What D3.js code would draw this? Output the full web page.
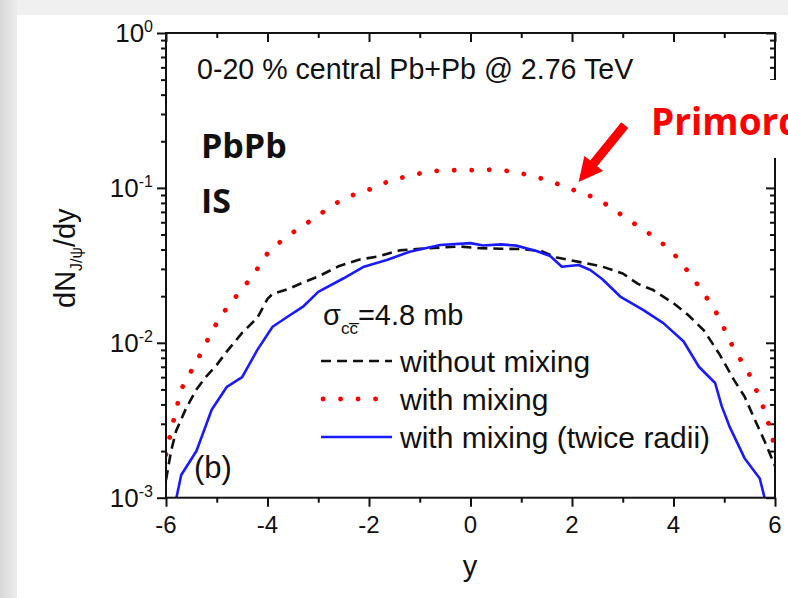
<!DOCTYPE html>
<html>
<head>
<meta charset="utf-8">
<script src="https://cdn.jsdelivr.net/npm/d3@7"></script>
<style>
  html, body { margin: 0; padding: 0; background: #f0f0f0; }
  svg { display: block; }
  text { font-family: "Liberation Sans", Arial, sans-serif; fill: #111; }
  .bold { font-family: "Open Sans", "Lato", sans-serif; font-weight: 700; }
</style>
</head>
<body>
<svg id="rapidityChart" width="788" height="598"></svg>
<script>
// rapidity values and dN/dy
const yRed = [-6, -5.9, -5.8, -5.7, -5.5, -5.3, -5.1, -4.9, -4.6, -4.3, -4.0, -3.7, -3.4, -3.1, -2.8, -2.5,
  -2.2, -1.9, -1.6, -1.2, -0.8, -0.4, 0, 0.4, 0.8, 1.2, 1.6, 1.9, 2.2, 2.5, 2.8, 3.1, 3.4, 3.7, 4.0,
  4.3, 4.6, 4.9, 5.1, 5.3, 5.5, 5.7, 5.8, 5.9, 6.0];
const withMixing = [0.0019, 0.0027, 0.0037, 0.0050, 0.0066, 0.0087, 0.0118, 0.0152, 0.0203, 0.0268,
  0.0378, 0.0463, 0.0543, 0.0630, 0.0738, 0.0855, 0.0928, 0.100, 0.111, 0.120, 0.128, 0.130, 0.130,
  0.131, 0.128, 0.120, 0.110, 0.100, 0.093, 0.085, 0.0735, 0.0625, 0.0540, 0.0463, 0.0378, 0.0285,
  0.0208, 0.0146, 0.0104, 0.0080, 0.0062, 0.0044, 0.0036, 0.0028, 0.0021];

const yBlack = [-6, -5.9, -5.8, -5.6, -5.4, -5.2, -5.0, -4.8, -4.5, -4.2, -4.0, -3.9, -3.6, -3.3, -3.0,
  -2.6, -2.2, -1.8, -1.4, -1.0, -0.6, -0.2, 0.2, 0.6, 1.0, 1.4, 1.7, 2.2, 2.6, 3.0, 3.3, 3.6, 4.0,
  4.3, 4.6, 4.9, 5.2, 5.4, 5.6, 5.8, 6.0];
const withoutMixing = [0.0013, 0.0020, 0.0027, 0.0038, 0.0050, 0.0061, 0.0072, 0.0088, 0.0116, 0.0145,
  0.0192, 0.0207, 0.0222, 0.0245, 0.0268, 0.0312, 0.0344, 0.0362, 0.0395, 0.0405, 0.0412, 0.0418,
  0.0408, 0.0405, 0.0403, 0.0390, 0.0355, 0.0330, 0.0310, 0.0280, 0.0240, 0.0219, 0.0180, 0.0150,
  0.0120, 0.0085, 0.0057, 0.0045, 0.0032, 0.0023, 0.0016];

const yBlue = [-5.8, -5.7, -5.4, -5.1, -4.8, -4.5, -4.2, -3.9, -3.65, -3.3, -3.0, -2.5, -2.1, -1.65,
  -1.2, -0.6, 0.0, 0.25, 0.6, 0.9, 1.3, 1.57, 1.8, 2.13, 2.36, 2.6, 2.95, 3.4, 3.8, 4.2, 4.5, 4.82,
  4.95, 5.1, 5.4, 5.7, 5.8];
const twiceRadii = [0.00098, 0.0014, 0.0020, 0.0037, 0.0052, 0.0060, 0.0090, 0.0127, 0.0144, 0.0171,
  0.0213, 0.0261, 0.0310, 0.0342, 0.0387, 0.0428, 0.0440, 0.0425, 0.0432, 0.0424, 0.0391, 0.0363,
  0.0310, 0.0318, 0.0295, 0.0257, 0.0199, 0.0163, 0.0134, 0.0102, 0.0070, 0.0055, 0.0039, 0.0029,
  0.0018, 0.00133, 0.00098];

const xMajor = [-6, -4, -2, 0, 2, 4, 6];
const xMinor = [-5, -3, -1, 1, 3, 5];
const yDecades = [-3, -2, -1, 0];

const series = [
  { name: "without mixing", xs: yBlack, vals: withoutMixing, color: "#111", width: 2.6, dash: "10 6", cap: "butt" },
  { name: "with mixing", xs: yRed, vals: withMixing, color: "#ff0000", width: 4.8, dash: "0.1 17.4", cap: "round" },
  { name: "with mixing (twice radii)", xs: yBlue, vals: twiceRadii, color: "#1a1aff", width: 2.6, dash: null, cap: "butt" }
];

const svg = d3.select("#rapidityChart");
const W = 788, H = 598;
const plot = { left: 166, right: 775, top: 33, bottom: 497.7 };

// slide background
const defs = svg.append("defs");
const grad = defs.append("linearGradient").attr("id", "edgeGrad");
grad.append("stop").attr("offset", "0%").attr("stop-color", "#d8d8d8");
grad.append("stop").attr("offset", "100%").attr("stop-color", "#ececec");
svg.append("rect").attr("width", W).attr("height", H).attr("fill", "#f0f0f0");
svg.append("rect").attr("x", 0).attr("y", 0).attr("width", 17).attr("height", H).attr("fill", "url(#edgeGrad)");
svg.append("rect").attr("x", 17).attr("y", 15).attr("width", W - 17).attr("height", H - 15).attr("fill", "#fff");

defs.append("clipPath").attr("id", "plotClip")
  .append("rect")
  .attr("x", plot.left).attr("y", plot.top)
  .attr("width", plot.right - plot.left).attr("height", plot.bottom - plot.top);

const x = d3.scaleLinear().domain([-6, 6]).range([plot.left, plot.right]);
const y = d3.scaleLog().domain([1e-3, 1]).range([plot.bottom, plot.top]);

const yMinor = [];
yDecades.slice(0, 3).forEach(e => {
  for (let k = 2; k <= 9; k++) yMinor.push(k * Math.pow(10, e));
});
const yMajor = yDecades.map(e => Math.pow(10, e));

function drawAxis(axis, transform) {
  const g = svg.append("g").attr("transform", transform).call(axis);
  g.select(".domain").remove();
  g.selectAll(".tick line").attr("stroke", "#111").attr("stroke-width", 2);
  g.selectAll(".tick text").remove();
  return g;
}

// bottom + top (ticks point down), left + right (ticks point left)
drawAxis(d3.axisBottom(x).tickValues(xMajor).tickSize(9).tickFormat(""), `translate(0,${plot.bottom})`);
drawAxis(d3.axisBottom(x).tickValues(xMinor).tickSize(5).tickFormat(""), `translate(0,${plot.bottom})`);
drawAxis(d3.axisBottom(x).tickValues(xMajor).tickSize(9).tickFormat(""), `translate(0,${plot.top})`);
drawAxis(d3.axisBottom(x).tickValues(xMinor).tickSize(5).tickFormat(""), `translate(0,${plot.top})`);
drawAxis(d3.axisLeft(y).tickValues(yMajor).tickSize(9).tickFormat(""), `translate(${plot.left},0)`);
drawAxis(d3.axisLeft(y).tickValues(yMinor).tickSize(5).tickFormat(""), `translate(${plot.left},0)`);
drawAxis(d3.axisLeft(y).tickValues(yMajor).tickSize(9).tickFormat(""), `translate(${plot.right},0)`);
drawAxis(d3.axisLeft(y).tickValues(yMinor).tickSize(5).tickFormat(""), `translate(${plot.right},0)`);

// curves
const line = d3.line().x(d => x(d[0])).y(d => y(d[1]));
const curves = svg.append("g").attr("clip-path", "url(#plotClip)");
series.forEach(s => {
  curves.append("path")
    .datum(s.xs.map((v, i) => [v, s.vals[i]]))
    .attr("d", line)
    .attr("fill", "none")
    .attr("stroke", s.color)
    .attr("stroke-width", s.width)
    .attr("stroke-linecap", s.cap)
    .attr("stroke-linejoin", "round")
    .attr("stroke-dasharray", s.dash);
});

// frame
svg.append("rect")
  .attr("x", plot.left).attr("y", plot.top)
  .attr("width", plot.right - plot.left).attr("height", plot.bottom - plot.top)
  .attr("fill", "none").attr("stroke", "#111").attr("stroke-width", 2);

// tick labels
svg.append("g").selectAll("text")
  .data(xMajor)
  .enter()
  .append("text")
  .attr("x", d => x(d))
  .attr("y", 533)
  .attr("text-anchor", "middle")
  .style("font-size", "24px")
  .text(d => d);

const yLab = svg.append("g").selectAll("text")
  .data(yDecades)
  .enter()
  .append("text")
  .attr("x", 153)
  .attr("y", d => y(Math.pow(10, d)) + 9)
  .attr("text-anchor", "end")
  .style("font-size", "26px");
yLab.append("tspan").text("10");
yLab.append("tspan").attr("dy", -10).style("font-size", "16px").text(d => d);

// axis titles
svg.append("text")
  .attr("x", 470).attr("y", 576)
  .attr("text-anchor", "middle")
  .style("font-size", "29px")
  .text("y");

const yTitle = svg.append("text")
  .attr("transform", "translate(75,308) rotate(-90)")
  .style("font-size", "29px");
yTitle.append("tspan").text("dN");
yTitle.append("tspan").attr("dy", 7).style("font-size", "16px").text("J/\u03c8");
yTitle.append("tspan").attr("dy", -7).text("/dy");

// in-plot labels
svg.append("text").attr("x", 197).attr("y", 79).style("font-size", "28.6px")
  .text("0-20 % central Pb+Pb @ 2.76 TeV");
svg.append("text").attr("x", 194).attr("y", 478).style("font-size", "31px").text("(b)");

const sig = svg.append("text").attr("x", 323).attr("y", 325).style("font-size", "29px");
sig.append("tspan").text("\u03c3");
sig.append("tspan").attr("dy", 9).style("font-size", "17px").text("cc\u0305");
sig.append("tspan").attr("dy", -9).text("=4.8 mb");

// legend
const legend = svg.append("g").attr("class", "legend");
const rows = legend.selectAll(".legend-item")
  .data(series)
  .enter()
  .append("g")
  .attr("class", "legend-item")
  .attr("transform", (d, i) => `translate(0, ${361 + i * 38})`);
rows.append("line")
  .attr("x1", d => d.cap === "round" ? 323 : 321)
  .attr("x2", 392)
  .attr("stroke", d => d.color)
  .attr("stroke-width", d => d.width)
  .attr("stroke-linecap", d => d.cap)
  .attr("stroke-dasharray", d => d.dash);
rows.append("text")
  .attr("x", 400)
  .attr("y", 11)
  .style("font-size", "30px")
  .text(d => d.name);

// slide annotations
svg.append("text").attr("class", "bold").attr("x", 201).attr("y", 158).style("font-size", "34px").text("PbPb");
svg.append("text").attr("class", "bold").attr("x", 201).attr("y", 213).style("font-size", "34px").text("IS");

svg.append("rect").attr("x", 640).attr("y", 80).attr("width", W - 640).attr("height", 78).attr("fill", "#fff");
svg.append("text").attr("class", "bold").attr("x", 651).attr("y", 135)
  .style("font-size", "37px").style("fill", "#ff0000").text("Primordial");

// arrow pointing at the dotted curve
const tail = [x(3.04), y(0.2545)];
const tip = [x(2.13), y(0.109)];
const dx = tip[0] - tail[0], dy = tip[1] - tail[1];
const len = Math.hypot(dx, dy);
const ux = dx / len, uy = dy / len, nx = -uy, ny = ux;
const headLen = 24, headW = 12, shaftW = 4.5;
const base = [tip[0] - ux * headLen, tip[1] - uy * headLen];
const pts = [
  [tail[0] + nx * shaftW, tail[1] + ny * shaftW],
  [base[0] + nx * shaftW, base[1] + ny * shaftW],
  [base[0] + nx * headW, base[1] + ny * headW],
  tip,
  [base[0] - nx * headW, base[1] - ny * headW],
  [base[0] - nx * shaftW, base[1] - ny * shaftW],
  [tail[0] - nx * shaftW, tail[1] - ny * shaftW]
];
svg.append("polygon").attr("points", pts.map(p => p.join(",")).join(" ")).attr("fill", "#ff0000");
</script>
</body>
</html>
